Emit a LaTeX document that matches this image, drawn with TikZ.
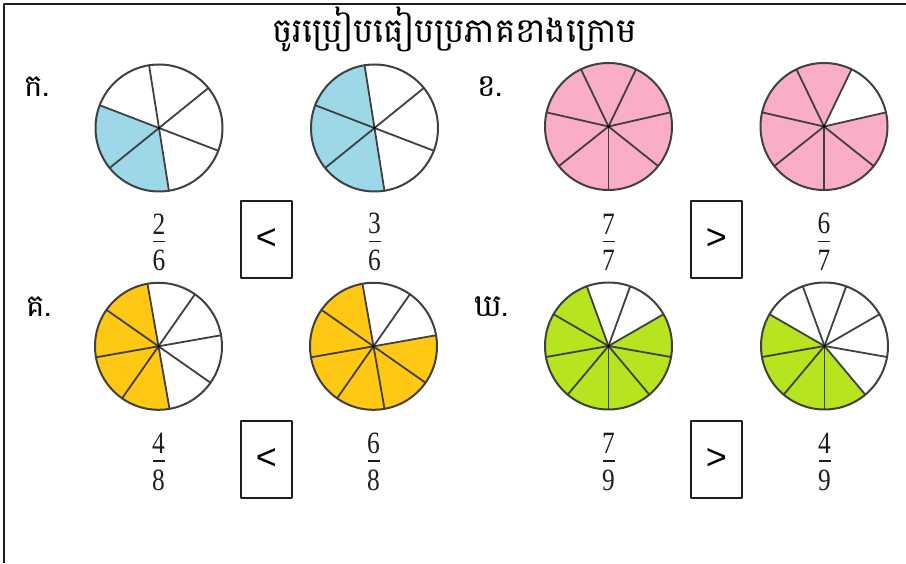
\documentclass[tikz,border=0pt]{standalone}
\usepackage{fontspec}
\setmainfont{Liberation Serif}
\newfontfamily\khmerfont[Script=Khmer]{Battambang}
\newfontfamily\digitfont[FakeStretch=0.82]{Liberation Serif}
\newfontfamily\signfont{Liberation Sans}
\usetikzlibrary{positioning}
\definecolor{fcInk}{HTML}{404040}
\definecolor{fcFrame}{HTML}{1E1E1E}
\definecolor{fcBlue}{HTML}{9DD8E9}
\definecolor{fcPink}{HTML}{F9ADC9}
\definecolor{fcYellow}{HTML}{FEC814}
\definecolor{fcGreen}{HTML}{B6E41F}
\tikzset{
 sheet/.style={line cap=round,line join=round},
 frame/.style={draw=fcFrame,line width=2.5pt,line cap=butt},
 rim/.style={draw=fcInk,line width=2pt},
 spoke/.style={draw=fcInk,line width=1.8pt},
 hub/.style={fill=black},
 title/.style={font=\khmerfont\fontsize{34}{40}\selectfont,anchor=base,inner sep=0pt},
 itemlabel/.style={font=\khmerfont\fontsize{31}{36}\selectfont,anchor=base west,inner sep=0pt},
 fracbar/.style={rectangle,fill=fcFrame,inner sep=0pt,minimum width=12pt,minimum height=1.3pt},
 digit/.style={font=\digitfont\fontsize{31}{33}\selectfont,inner sep=0pt,text=fcFrame},
 relbox/.style={draw=fcFrame,line width=2.2pt,minimum width=51.6pt,minimum height=76.6pt,
   inner sep=0pt,font=\signfont\fontsize{36}{40}\selectfont}
}
\newcommand{\pieR}{63.5}
% #1 name, #2 centre, #3 parts, #4 first spoke, #5 first shaded spoke, #6 shaded parts, #7 colour
\newcommand{\fractionPie}[7]{%
 \coordinate (#1) at (#2);
 \begin{scope}[shift={(#2)}]
  \fill[#7] (0,0) -- ({#4+360/#3*#5}:\pieR)
    arc[start angle={#4+360/#3*#5},delta angle={360/#3*#6},radius=\pieR] -- cycle;
  \foreach \k in {1,...,#3}{\draw[spoke] (0,0) -- ({#4+360/#3*\k}:\pieR);}
  \draw[rim] (0,0) circle[radius=\pieR];
  \fill[hub] (0,0) circle[radius=1.6];
 \end{scope}}
% #1 name, #2 bar centre, #3 numerator, #4 denominator
\newcommand{\fractionAt}[4]{%
 \node[fracbar] (#1) at (#2) {};
 \node[digit,above=6.5pt of #1] (#1num) {#3};
 \node[digit,below=7.5pt of #1] (#1den) {#4};}

\begin{document}
\begin{tikzpicture}[sheet,x=1pt,y=1pt]
 \useasboundingbox (0,0) rectangle (906,563);
 \draw[frame] (4,0)--(4,559)--(906,559);
 \node[title] (heading) at (454.7,520) {ចូរប្រៀបធៀបប្រភាគខាងក្រោម};
 % first row
 \node[itemlabel] (labKa) at (24,466) {ក.};
 \fractionPie{pieKaL}{159,435}{6}{99}{1}{2}{fcBlue}
 \fractionPie{pieKaR}{374.5,435}{6}{99}{0}{3}{fcBlue}
 \fractionAt{frKaL}{159,321.3}{2}{6}
 \fractionAt{frKaR}{374.5,321.3}{3}{6}
 \node[relbox] (relKa) at (266.5,323.5) {<};
 \node[itemlabel] (labKha) at (477,466) {ខ.};
 \fractionPie{pieKhaL}{608.5,436.5}{7}{-90}{0}{7}{fcPink}
 \fractionPie{pieKhaR}{824,436.5}{7}{-90}{3}{6}{fcPink}
 \fractionAt{frKhaL}{608.5,321.3}{7}{7}
 \fractionAt{frKhaR}{824,321.3}{6}{7}
 \node[relbox] (relKha) at (716.5,323.5) {>};
 % second row
 \node[itemlabel] (labKo) at (26,246) {គ.};
 \fractionPie{pieKoL}{158.5,216.7}{8}{10}{2}{4}{fcYellow}
 \fractionPie{pieKoR}{373.5,216.7}{8}{10}{2}{6}{fcYellow}
 \fractionAt{frKoL}{158.5,102}{4}{8}
 \fractionAt{frKoR}{373.5,102}{6}{8}
 \node[relbox] (relKo) at (266.5,103.5) {<};
 \node[itemlabel] (labKho) at (474,246) {ឃ.};
 \fractionPie{pieKhoL}{608.5,217}{9}{-90}{5}{7}{fcGreen}
 \fractionPie{pieKhoR}{824.5,217}{9}{-90}{6}{4}{fcGreen}
 \fractionAt{frKhoL}{608.5,102}{7}{9}
 \fractionAt{frKhoR}{824.5,102}{4}{9}
 \node[relbox] (relKho) at (716.5,103.5) {>};
\end{tikzpicture}
\end{document}
